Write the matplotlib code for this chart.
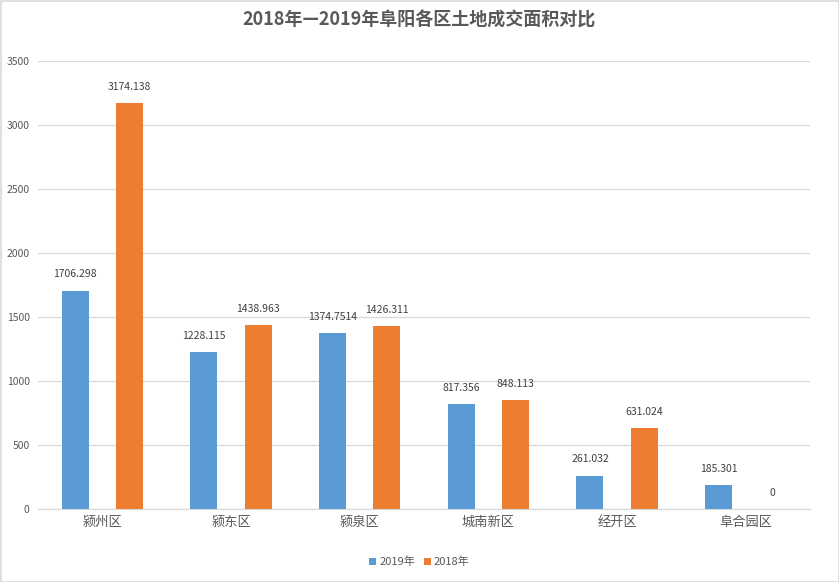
import matplotlib
matplotlib.use("Agg")
import matplotlib.pyplot as plt
import numpy as np
from matplotlib.patches import Rectangle

plt.rcParams['font.family'] = ['Noto Sans CJK SC', 'DejaVu Sans']

categories = ['颍州区', '颍东区', '颍泉区', '城南新区', '经开区', '阜合园区']
values_2019 = [1706.298, 1228.115, 1374.7514, 817.356, 261.032, 185.301]
values_2018 = [3174.138, 1438.963, 1426.311, 848.113, 631.024, 0]
labels_2019 = ['1706.298', '1228.115', '1374.7514', '817.356', '261.032', '185.301']
labels_2018 = ['3174.138', '1438.963', '1426.311', '848.113', '631.024', '0']
yticks = [0, 500, 1000, 1500, 2000, 2500, 3000, 3500]
title = '2018年—2019年阜阳各区土地成交面积对比'

blue = '#5B9BD5'
orange = '#ED7D31'
txt = '#595959'

fig = plt.figure(figsize=(8.39, 5.82), dpi=100)
ax = fig.add_axes([38/839, 1-509/582, (810-38)/839, (509-61)/582])

x = np.arange(len(categories))
w = 0.21
b1 = ax.bar(x - w, values_2019, w, color=blue, label='2019年', zorder=3)
b2 = ax.bar(x + w, values_2018, w, color=orange, label='2018年', zorder=3)

for rects, labs in ((b1, labels_2019), (b2, labels_2018)):
    for r, lab in zip(rects, labs):
        ax.annotate(lab, (r.get_x() + r.get_width()/2, r.get_height()),
                    xytext=(0, 8), textcoords='offset points',
                    ha='center', va='bottom', fontsize=7.5, color='#404040')

ax.set_xlim(-0.5, len(categories) - 0.5)
ax.set_ylim(0, 3500)
ax.set_yticks(yticks)
ax.set_yticklabels([str(v) for v in yticks], fontsize=7.5, color=txt)
ax.set_xticks(x)
ax.set_xticklabels(categories, fontsize=9.5, color=txt)
ax.tick_params(axis='both', length=0)
ax.tick_params(axis='y', pad=6)
ax.tick_params(axis='x', pad=5)
ax.grid(axis='y', color='#d9d9d9', linewidth=0.9, zorder=0)
for s in ['top', 'right', 'left']:
    ax.spines[s].set_visible(False)
ax.spines['bottom'].set_color('#d9d9d9')
ax.spines['bottom'].set_linewidth(0.9)

fig.text(0.5, 1-20/582, title, ha='center', va='center', fontsize=13,
         fontweight='bold', color=txt)

leg = fig.legend(handles=[b1, b2], loc='center', bbox_to_anchor=(0.5, 1-562/582),
                 ncol=2, frameon=False, fontsize=8, handlelength=0.6, handleheight=0.6,
                 handletextpad=0.3, columnspacing=0.8)
for t in leg.get_texts():
    t.set_color(txt)

fig.patches.append(Rectangle((0.5/839, 0.5/582), 1-1/839, 1-1/582, transform=fig.transFigure,
                             fill=False, edgecolor='#d9d9d9', linewidth=1.2))

fig.savefig('out.png', dpi=100)
